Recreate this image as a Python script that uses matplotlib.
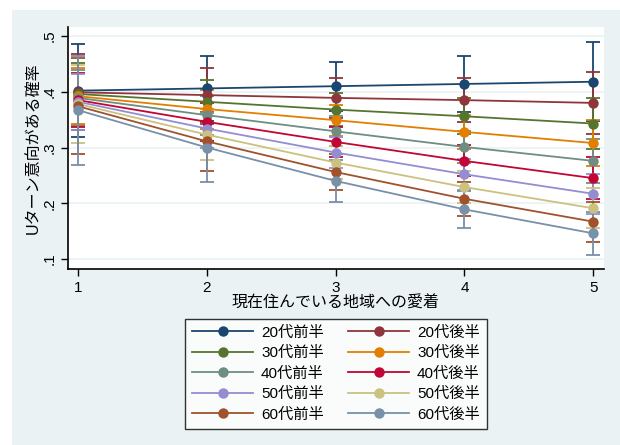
import matplotlib
matplotlib.use("Agg")
import matplotlib.pyplot as plt
from matplotlib.patches import Rectangle

plt.rcParams['font.family'] = ['Liberation Sans', 'Noto Sans CJK JP', 'DejaVu Sans']

x = [1, 2, 3, 4, 5]
labels = ['20代前半', '20代後半', '30代前半', '30代後半', '40代前半',
          '40代後半', '50代前半', '50代後半', '60代前半', '60代後半']
colors = ['#1a476f', '#90353b', '#55752f', '#e37e00', '#6e8e84',
          '#c10534', '#938dd2', '#cac27e', '#a0522d', '#7890a8']

p_20a = [0.402, 0.406, 0.410, 0.414, 0.418]
p_20b = [0.399, 0.394, 0.389, 0.385, 0.380]
p_30a = [0.396, 0.382, 0.368, 0.356, 0.343]
p_30b = [0.392, 0.369, 0.349, 0.328, 0.308]
p_40a = [0.389, 0.358, 0.329, 0.301, 0.276]
p_40b = [0.385, 0.346, 0.310, 0.276, 0.245]
p_50a = [0.382, 0.334, 0.291, 0.252, 0.217]
p_50b = [0.378, 0.323, 0.273, 0.229, 0.191]
p_60a = [0.374, 0.311, 0.256, 0.208, 0.167]
p_60b = [0.367, 0.300, 0.240, 0.189, 0.146]
probs = [p_20a, p_20b, p_30a, p_30b, p_40a, p_40b, p_50a, p_50b, p_60a, p_60b]

# 95% CI half-widths read from the caps
h_20a = [0.084, 0.059, 0.044, 0.050, 0.071]
h_20b = [0.068, 0.048, 0.036, 0.039, 0.056]
h_30a = [0.055, 0.039, 0.030, 0.032, 0.045]
h_30b = [0.050, 0.035, 0.028, 0.030, 0.042]
h_40a = [0.050, 0.035, 0.027, 0.029, 0.040]
h_40b = [0.048, 0.034, 0.027, 0.028, 0.038]
h_50a = [0.050, 0.035, 0.027, 0.028, 0.036]
h_50b = [0.070, 0.046, 0.030, 0.029, 0.036]
h_60a = [0.086, 0.053, 0.033, 0.030, 0.036]
h_60b = [0.098, 0.062, 0.038, 0.033, 0.039]
halfw = [h_20a, h_20b, h_30a, h_30b, h_40a, h_40b, h_50a, h_50b, h_60a, h_60b]

yticks = [0.1, 0.2, 0.3, 0.4, 0.5]
ytick_labels = ['.1', '.2', '.3', '.4', '.5']

W, H = 620, 445
fig = plt.figure(figsize=(W / 100, H / 100), dpi=100)
fig.patch.set_facecolor('white')
fig.patches.append(Rectangle((12 / W, 0), 1 - 12 / W, 1 - 10 / H,
                             transform=fig.transFigure, facecolor='#eaf2f3',
                             edgecolor='none', zorder=0))

ax = fig.add_axes([68 / W, 1 - 268.7 / H, (604 - 68) / W, (268.7 - 26.7) / H])
ax.set_facecolor('white')
ax.set_zorder(1)

for yt in yticks:
    ax.axhline(yt, color='#eaf2f3', lw=1.2, zorder=0)

for p, h, c in zip(probs, halfw, colors):
    ax.errorbar(x, p, yerr=h, fmt='none', ecolor=c, elinewidth=1.3,
                capsize=5, capthick=1.3, zorder=2)
handles = []
for p, c, lab in zip(probs, colors, labels):
    ln, = ax.plot(x, p, color=c, lw=1.3, marker='o', markersize=7.5,
                  markeredgewidth=0, label=lab, zorder=3)
    handles.append(ln)

ax.set_xlim(0.922, 5.083)
ax.set_ylim(0.0826, 0.5167)
ax.set_xticks(x)
ax.set_xticklabels([str(v) for v in x], fontsize=11)
ax.set_yticks(yticks)
ax.set_yticklabels(ytick_labels, fontsize=11, rotation=90, va='center')
ax.tick_params(axis='both', direction='out', length=5, width=1, color='black')
for s in ['top', 'right']:
    ax.spines[s].set_visible(False)
for s in ['left', 'bottom']:
    ax.spines[s].set_linewidth(1.2)
    ax.spines[s].set_color('black')

ax.set_xlabel('現在住んでいる地域への愛着', fontsize=11.5, labelpad=1)
ax.set_ylabel('Uターン意向がある確率', fontsize=11.5, labelpad=1)

order = list(range(0, 10, 2)) + list(range(1, 10, 2))
leg = ax.legend([handles[i] for i in order], [labels[i] for i in order],
                loc='upper center', bbox_to_anchor=(0.5, -0.207), ncol=2,
                fontsize=11, frameon=True, fancybox=False, edgecolor='black',
                handlelength=4.0, handletextpad=0.5, columnspacing=1.6,
                labelspacing=0.42, borderpad=0.45, borderaxespad=0)
leg.get_frame().set_linewidth(1.0)

fig.savefig('out.png', dpi=100, facecolor=fig.get_facecolor())
